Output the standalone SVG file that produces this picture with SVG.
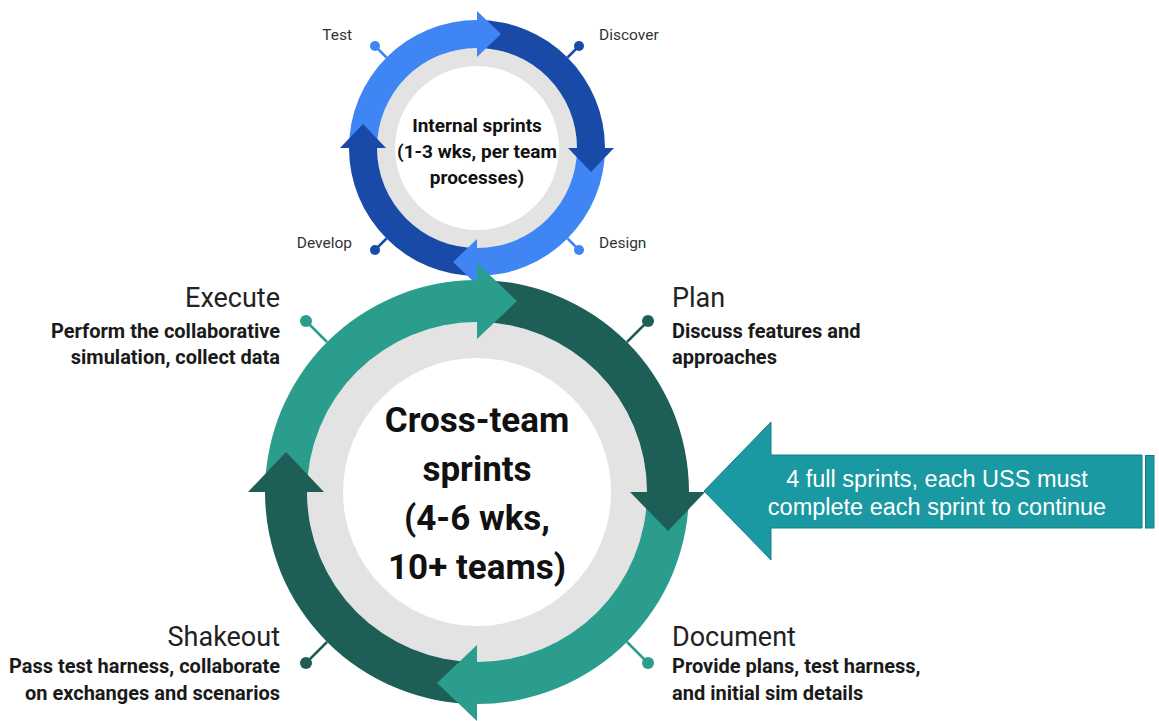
<svg xmlns="http://www.w3.org/2000/svg" width="1159" height="721" viewBox="0 0 1159 721">
<defs>
<style>
.lb{fill:#3f85f4}.db{fill:#1a4aa8}.lt{fill:#2a9d8c}.dt{fill:#1d5f56}
.gray{fill:#e3e3e3}.white{fill:#ffffff}
.cl{stroke-width:2.5;fill:none}
.t1{font-family:Roboto,"Liberation Sans",sans-serif;font-size:15.5px;fill:#333}
.ct{font-family:Roboto,"Liberation Sans",sans-serif;font-weight:700;fill:#111;text-anchor:middle}
.h{font-family:Roboto,"Liberation Sans",sans-serif;font-size:27px;fill:#222}
.s{font-family:Roboto,"Liberation Sans",sans-serif;font-size:20px;font-weight:700;fill:#1a1a1a}
.r{text-anchor:end}
.at{font-family:"Liberation Sans",Arial,sans-serif;font-size:23.5px;fill:#ffffff;text-anchor:middle}
</style>
</defs>
<rect width="1159" height="721" fill="#ffffff"/>

<g id="connectors">
<line x1="386.5" y1="57.5" x2="375" y2="46" stroke="#3f85f4" class="cl"/>
<circle cx="375" cy="46" r="5" class="lb"/>
<line x1="567.5" y1="57.5" x2="579" y2="46" stroke="#1a4aa8" class="cl"/>
<circle cx="579" cy="46" r="5" class="db"/>
<line x1="386.5" y1="238.5" x2="375" y2="250" stroke="#1a4aa8" class="cl"/>
<circle cx="375" cy="250" r="5" class="db"/>
<line x1="567.5" y1="238.5" x2="579" y2="250" stroke="#3f85f4" class="cl"/>
<circle cx="579" cy="250" r="5" class="lb"/>
<line x1="327" y1="342" x2="306" y2="321" stroke="#2a9d8c" class="cl"/>
<circle cx="306" cy="321" r="6" class="lt"/>
<line x1="627" y1="342" x2="648" y2="321" stroke="#1d5f56" class="cl"/>
<circle cx="648" cy="321" r="6" class="dt"/>
<line x1="327" y1="642" x2="306" y2="663" stroke="#1d5f56" class="cl"/>
<circle cx="306" cy="663" r="6" class="dt"/>
<line x1="627" y1="642" x2="648" y2="663" stroke="#2a9d8c" class="cl"/>
<circle cx="648" cy="663" r="6" class="lt"/>
</g>

<g id="internal-cycle">
<circle cx="477" cy="148" r="100" class="gray"/>
<circle cx="477" cy="148" r="82" class="white"/>
<path class="lb" d="M349,148 A128,128 0 0 1 477,20 L477,48 A100,100 0 0 0 377,148 Z"/>
<path class="db" d="M477,20 A128,128 0 0 1 605,148 L577,148 A100,100 0 0 0 477,48 Z"/>
<path class="lb" d="M605,148 A128,128 0 0 1 477,276 L477,248 A100,100 0 0 0 577,148 Z"/>
<path class="db" d="M477,276 A128,128 0 0 1 349,148 L377,148 A100,100 0 0 0 477,248 Z"/>
<polygon class="lb" points="477,11 477,57 501,34"/>
<polygon class="db" points="568,148 614,148 591,172"/>
<polygon class="lb" points="477,239 477,285 453,262"/>
<polygon class="db" points="340,148 386,148 363,124"/>
<text class="ct" font-size="19" x="477" y="132">Internal sprints</text>
<text class="ct" font-size="19" x="477" y="158">(1-3 wks, per team</text>
<text class="ct" font-size="19" x="477" y="184">processes)</text>
</g>

<g id="cross-cycle">
<circle cx="477" cy="492" r="170" class="gray"/>
<circle cx="477" cy="492" r="134" class="white"/>
<path class="lt" d="M265,492 A212,212 0 0 1 477,280 L477,322 A170,170 0 0 0 307,492 Z"/>
<path class="dt" d="M477,280 A212,212 0 0 1 689,492 L647,492 A170,170 0 0 0 477,322 Z"/>
<path class="lt" d="M689,492 A212,212 0 0 1 477,704 L477,662 A170,170 0 0 0 647,492 Z"/>
<path class="dt" d="M477,704 A212,212 0 0 1 265,492 L307,492 A170,170 0 0 0 477,662 Z"/>
<polygon class="lt" points="477,263 477,339 517,301"/>
<polygon class="dt" points="630,492 705,492 668,531"/>
<polygon class="lt" points="477,645 477,721 437,683"/>
<polygon class="dt" points="248,492 324,492 286,452"/>
<text class="ct" font-size="35" x="477" y="432">Cross-team</text>
<text class="ct" font-size="35" x="477" y="481">sprints</text>
<text class="ct" font-size="35" x="477" y="530">(4-6 wks,</text>
<text class="ct" font-size="35" x="477" y="579">10+ teams)</text>
</g>

<g id="label-test"><text class="t1 r" x="352" y="40">Test</text></g>
<g id="label-discover"><text class="t1" x="599" y="40">Discover</text></g>
<g id="label-develop"><text class="t1 r" x="352" y="248">Develop</text></g>
<g id="label-design"><text class="t1" x="599" y="248">Design</text></g>

<g id="label-execute">
<text class="h r" x="280" y="307">Execute</text>
<text class="s r" x="280" y="338">Perform the collaborative</text>
<text class="s r" x="280" y="364">simulation, collect data</text>
</g>
<g id="label-plan">
<text class="h" x="672" y="307">Plan</text>
<text class="s" x="672" y="338">Discuss features and</text>
<text class="s" x="672" y="364">approaches</text>
</g>
<g id="label-shakeout">
<text class="h r" x="280" y="646">Shakeout</text>
<text class="s r" x="280" y="673">Pass test harness, collaborate</text>
<text class="s r" x="280" y="700">on exchanges and scenarios</text>
</g>
<g id="label-document">
<text class="h" x="672" y="646">Document</text>
<text class="s" x="672" y="673">Provide plans, test harness,</text>
<text class="s" x="672" y="700">and initial sim details</text>
</g>

<g id="sprint-arrow">
<polygon points="704,491 771,422 771,455 1142,455 1142,528 771,528 771,560" fill="#1a99a2" stroke="#167e85" stroke-width="1"/>
<rect x="1145.5" y="455.5" width="8.5" height="72.5" fill="#1a99a2" stroke="#167e85" stroke-width="1"/>
<text class="at" x="937" y="487">4 full sprints, each USS must</text>
<text class="at" x="937" y="515">complete each sprint to continue</text>
</g>
</svg>
